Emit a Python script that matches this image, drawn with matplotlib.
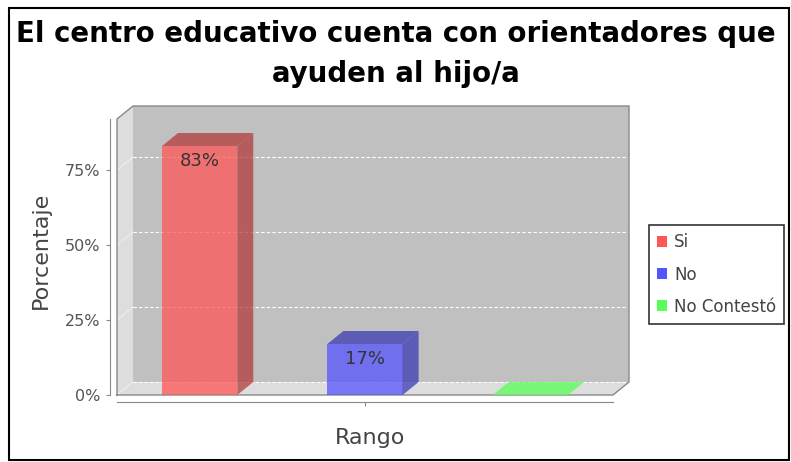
import matplotlib
matplotlib.use("Agg")
import matplotlib.pyplot as plt
from matplotlib.patches import Polygon, Rectangle, Patch
from matplotlib.ticker import PercentFormatter
from matplotlib.colors import to_rgb

# datos de la encuesta
titulo = "El centro educativo cuenta con orientadores que\nayuden al hijo/a"
categorias = ["Si", "No", "No Contestó"]
porcentajes = [0.83, 0.17, 0.0]
etiquetas = ["83%", "17%", ""]
ticks_y = [0.0, 0.25, 0.50, 0.75]
colores = ["#FF5555", "#5555FF", "#55FF55"]

W, H = 791, 462
fig = plt.figure(figsize=(W / 100, H / 100), dpi=100)
ax = fig.add_axes([117 / W, (H - 395) / H, 496 / W, 276 / H])
ax.set_xlim(-0.5, 2.5)
ax.set_ylim(0, 0.92)
ax.patch.set_visible(False)

# profundidad del efecto 3D (pixeles -> unidades de datos)
DX, DY = 16, 13
x0, x1 = ax.get_xlim()
y0, y1 = ax.get_ylim()
p0 = ax.transData.transform((0, 0))
p1 = ax.transData.transform((1, 1))
dx = DX / (p1[0] - p0[0])
dy = DY / (p1[1] - p0[1])

def oscuro(c, f=0.7):
    r, g, b = to_rgb(c)
    return (r * f, g * f, b * f)

# paredes y suelo
ax.add_patch(Rectangle((x0 + dx, y0 + dy), x1 - x0, y1 - y0,
                       facecolor="#C0C0C0", edgecolor="none", clip_on=False, zorder=0))
ax.add_patch(Polygon([(x0, y0), (x0, y1), (x0 + dx, y1 + dy), (x0 + dx, y0 + dy)],
                     facecolor="#DDDDDD", edgecolor="none", clip_on=False, zorder=0))
ax.add_patch(Polygon([(x0, y0), (x1, y0), (x1 + dx, y0 + dy), (x0 + dx, y0 + dy)],
                     facecolor="#DDDDDD", edgecolor="none", clip_on=False, zorder=0))

# rejilla
for t in ticks_y:
    ax.plot([x0 + dx, x1 + dx], [t + dy, t + dy], color="white", ls=(0, (3, 2)),
            lw=0.8, clip_on=False, zorder=1)
    ax.plot([x0, x0 + dx], [t, t + dy], color="#EEEEEE", lw=0.8, clip_on=False, zorder=1)

ax.plot([x0, x0, x0 + dx, x1 + dx, x1 + dx, x1, x0],
        [y0, y1, y1 + dy, y1 + dy, y0 + dy, y0, y0],
        color="#888888", lw=1, clip_on=False, zorder=2)

# barras 3D
ancho = 0.455
for i, (v, c, txt) in enumerate(zip(porcentajes, colores, etiquetas)):
    xl, xr = i - ancho / 2, i + ancho / 2
    cara_top = c if v == 0 else oscuro(c)
    if v > 0:
        ax.add_patch(Rectangle((xl, 0), ancho, v, facecolor=c, alpha=0.75,
                               edgecolor="none", clip_on=False, zorder=3))
        ax.add_patch(Polygon([(xr, 0), (xr + dx, dy), (xr + dx, v + dy), (xr, v)],
                             facecolor=oscuro(c), alpha=0.75, edgecolor="none",
                             clip_on=False, zorder=3))
    ax.add_patch(Polygon([(xl, v), (xr, v), (xr + dx, v + dy), (xl + dx, v + dy)],
                         facecolor=cara_top, alpha=0.75, edgecolor="none",
                         clip_on=False, zorder=3))
    if txt:
        ax.annotate(txt, (i, v), xytext=(0, -4.5), textcoords="offset points",
                    ha="center", va="top", fontsize=13, color="#333333", zorder=4)

# ejes
for s in ["top", "right"]:
    ax.spines[s].set_visible(False)
for s in ["left", "bottom"]:
    ax.spines[s].set_position(("outward", 5))
    ax.spines[s].set_color("#888888")
ax.set_yticks(ticks_y)
ax.yaxis.set_major_formatter(PercentFormatter(1.0, decimals=0))
ax.set_xticks([1])
ax.set_xticklabels([""])
ax.tick_params(axis="both", direction="out", length=3, color="#888888",
               labelsize=11.5, labelcolor="#555555")
ax.tick_params(axis="y", pad=4)

fig.text(41 / W, 1 - 250 / H, "Porcentaje", rotation=90, ha="center", va="center",
         fontsize=16, color="#444444")
fig.text(370 / W, 1 - 438 / H, "Rango", ha="center", va="center",
         fontsize=16, color="#444444")

# titulo: se ajusta el tamano para que la primera linea ocupe ~757 px
t_tit = fig.text(0.5, 1 - 54 / H, titulo, ha="center", va="center", fontsize=22,
                 fontweight="bold")
r = fig.canvas.get_renderer()
ancho_px = t_tit.get_window_extent(r).width
tam = 22 * 757 / ancho_px
t_tit.set_fontsize(tam)
t_tit.set_linespacing(42 / (tam * 100 / 72))

handles = [Patch(facecolor=c, edgecolor="none") for c in colores]
leg = fig.legend(handles, categorias, loc="center left",
                 bbox_to_anchor=(649 / W, 1 - 274.5 / H), frameon=True,
                 fancybox=False, edgecolor="black", fontsize=12,
                 handlelength=0.6, handleheight=0.6, handletextpad=0.4,
                 labelspacing=0.85, borderpad=0.5, borderaxespad=0)
leg.get_frame().set_linewidth(1.2)
for t in leg.get_texts():
    t.set_color("#444444")

# marco exterior
fig.add_artist(Rectangle((9 / W, (H - 460) / H), 780 / W, 452 / H,
                         transform=fig.transFigure, fill=False,
                         edgecolor="black", lw=1.5))

fig.savefig("out.png", dpi=100)
